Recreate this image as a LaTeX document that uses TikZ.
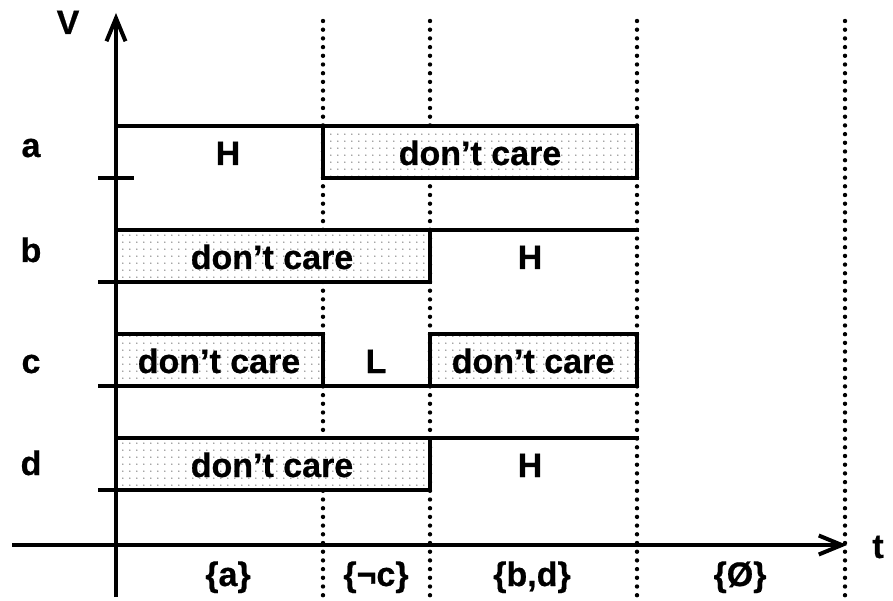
\documentclass[tikz,border=0pt]{standalone}
\usepackage{fontspec}
\setmainfont{Liberation Sans}[BoldFeatures={FakeBold=0.6}]
\usetikzlibrary{arrows.meta,patterns.meta}
\tikzdeclarepattern{
  name=dcdots,
  type=colored,
  bottom left={(0pt,0pt)},
  top right={(7.2pt,7.2pt)},
  tile size={(7.2pt,7.2pt)},
  code={
    \fill[black!70] (1pt,1pt) circle (0.75pt);
  }
}
\tikzset{
  sig/.style={line width=4pt, line cap=rect, line join=miter},
  dc/.style={line width=4pt, line join=miter, fill=white, postaction={pattern=dcdots}},
  grid line/.style={line width=4.4pt, line cap=round, dash pattern=on 0pt off 8.7pt},
  axis/.style={line width=4pt},
  lab/.style={font=\fontsize{34}{40}\selectfont\bfseries, anchor=base, inner sep=0pt},
}
\begin{document}
\begin{tikzpicture}[x=1pt,y=-1pt]
\path[use as bounding box] (0,0) rectangle (893,601);
% dotted time separators
\foreach \xx in {323,430,637,845}{
  \draw[grid line] (\xx,21) -- (\xx,600);
}
% row a
\draw[sig] (116,126) -- (323,126);
\draw[sig] (100,178) -- (132,178);
\draw[dc] (323,126) rectangle (637,178);
% row b
\draw[sig] (430,230) -- (637,230);
\draw[sig] (100,282) -- (116,282);
\draw[dc] (116,230) rectangle (430,282);
% row c
\draw[sig] (100,386) -- (637,386);
\draw[dc] (116,334) rectangle (323,386);
\draw[dc] (430,334) rectangle (637,386);
% row d
\draw[sig] (430,438) -- (637,438);
\draw[sig] (100,490) -- (116,490);
\draw[dc] (116,438) rectangle (430,490);
% redraw box outlines on top of fills
\draw[line width=4pt, line join=miter] (323,126) rectangle (637,178);
\draw[line width=4pt, line join=miter] (116,230) rectangle (430,282);
\draw[line width=4pt, line join=miter] (116,334) rectangle (323,386);
\draw[line width=4pt, line join=miter] (430,334) rectangle (637,386);
\draw[line width=4pt, line join=miter] (116,438) rectangle (430,490);
% axes
\coordinate (vo) at (116,597);
\coordinate (vt) at (116,13);
\coordinate (ho) at (12,545);
\coordinate (ht) at (847,545);
\draw[axis,-{Straight Barb[length=23pt,width=19pt]}] (vo) -- (vt);
\draw[axis,-{Straight Barb[length=23pt,width=19pt]}] (ho) -- (ht);
% labels
\node[lab] (lV) at (68,34) {V};
\node[lab] (lt) at (878,558) {t};
\node[lab] (la) at (31,157) {a};
\node[lab] (lb) at (31,262) {b};
\node[lab] (lc) at (31,373) {c};
\node[lab] (ld) at (31,475) {d};
\node[lab] (aH) at (228,165) {H};
\node[lab] (aD) at (480,165) {don’t care};
\node[lab] (bD) at (272,269) {don’t care};
\node[lab] (bH) at (530,269) {H};
\node[lab] (cD1) at (219,373) {don’t care};
\node[lab] (cL) at (376,373) {L};
\node[lab] (cD2) at (533,373) {don’t care};
\node[lab] (dD) at (272,477) {don’t care};
\node[lab] (dH) at (530,477) {H};
\node[lab] (s1) at (228,586) {\{a\}};
\node[lab] (s2) at (376,586) {\{¬c\}};
\node[lab] (s3) at (532,586) {\{b,d\}};
\node[lab] (s4) at (740,586) {\{Ø\}};
\end{tikzpicture}
\end{document}
